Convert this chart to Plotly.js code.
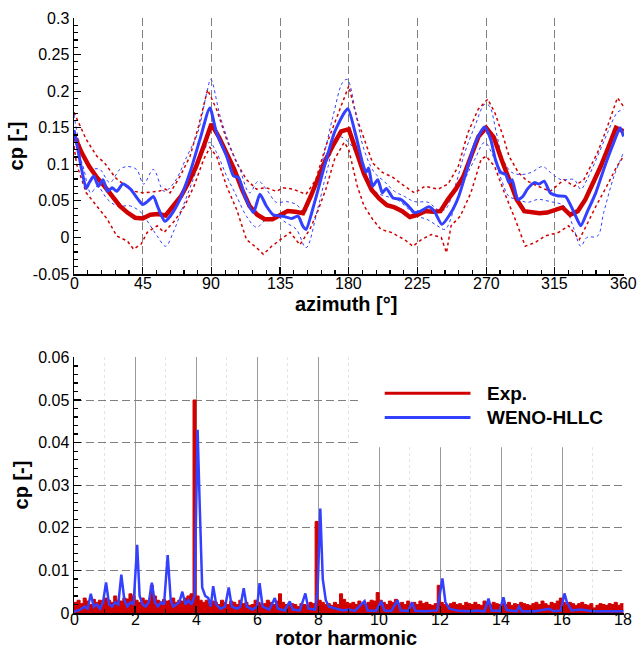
<!DOCTYPE html>
<html><head><meta charset="utf-8">
<script src="https://cdn.plot.ly/plotly-3.0.1.min.js"></script>
<style>html,body{margin:0;padding:0;background:#fff}</style>
</head><body><div id="chart" style="width:637px;height:649px"></div>
<script>
// ---------- Top panel: cp vs azimuth ----------
const expMeanAz0 = 0, expMeanDaz = 5;
const expMean = [0.140,0.116,0.097,0.082,0.070,0.056,0.043,0.034,0.027,0.026,0.031,0.032,0.030,0.043,0.056,0.075,0.097,0.125,0.155,0.137,
  0.116,0.093,0.066,0.043,0.031,0.025,0.025,0.031,0.036,0.035,0.033,0.056,0.083,0.107,0.127,0.145,0.148,0.116,0.087,0.065,
  0.053,0.044,0.041,0.036,0.028,0.031,0.036,0.035,0.036,0.052,0.066,0.083,0.111,0.138,0.150,0.137,0.107,0.079,0.052,0.036,
  0.034,0.033,0.034,0.037,0.041,0.031,0.036,0.052,0.073,0.097,0.123,0.150,0.145];

const expUpperAz = [0,8,15,20,27,35,40,45,55,60,63,69.6,76,81.6,87.5,93.4,100,106.6,113,119.6,126,132.6,137,143.5,152,158.4,165,170.7,177,180,
  185.6,190,195.6,202,209,216.6,223,230,238.5,245,251.7,258,264.7,271,275.6,281,285,291,297,304,312,321,327.6,334,343,349.5,356,360];
const expUpper = [0.171,0.134,0.111,0.102,0.082,0.068,0.063,0.061,0.063,0.066,0.061,0.084,0.111,0.152,0.202,0.175,0.134,0.102,0.079,0.066,
  0.068,0.063,0.068,0.066,0.059,0.079,0.125,0.157,0.193,0.207,0.161,0.134,0.102,0.089,0.082,0.070,0.061,0.070,0.066,0.073,
  0.097,0.143,0.175,0.189,0.171,0.139,0.111,0.089,0.077,0.070,0.063,0.079,0.070,0.079,0.116,0.152,0.191,0.179];

const expLowerAz = [0,1.7,8,15,21.8,28,35,39,44,48,54.5,59,65.6,72,78.6,85,89,93.4,100,106.6,113,119.6,124,129.5,135,141.6,148,154.5,159.5,165,170.7,
  177,180,185.6,190,195.6,201,207.7,216.6,222,227.6,234,240.6,244,247,253,260,266.7,270,275.6,282,289,295.6,302,308.6,317.6,324,331,335.6,342,349,355.6,360];
const expLower = [0.125,0.100,0.061,0.043,0.025,0.002,-0.005,-0.016,-0.009,0.007,0.016,0.007,0.022,0.041,0.070,0.107,0.123,0.111,0.070,0.038,
  -0.003,-0.014,-0.023,-0.012,-0.003,0.007,-0.010,0.011,0.035,0.066,0.107,0.130,0.120,0.070,0.043,0.025,0.011,0.007,-0.003,-0.012,-0.003,
  0.004,0.000,-0.021,0.016,0.029,0.061,0.107,0.111,0.097,0.061,0.025,-0.012,-0.007,0.002,0.007,0.016,-0.003,0.016,0.043,0.070,0.097,0.111];

const wenoMeanAz = [0,3,5,8,10,13,16,19,22,25,28,32,37,42,45,48,52,55,59.5,63,69.4,76,82.5,89,93.4,100,104.5,107.8,112,117.5,121.8,126,130.5,137,
  142.5,146.8,150,152,157.6,164,170.7,177.2,179.5,184.8,189,191.3,193,195.6,199,202,204.6,209,214,219,223,227,232.5,236,241,247,252,258,263,
  269,273,276,279.6,282.8,285,287,290.7,294,297,301.5,304.7,308,312,316.7,322,327.6,332,336,341.8,347,352.7,357.8,360];
const wenoMean = [0.147,0.115,0.093,0.067,0.075,0.084,0.070,0.079,0.063,0.068,0.063,0.073,0.066,0.052,0.045,0.049,0.056,0.041,0.022,0.029,
  0.052,0.089,0.134,0.177,0.143,0.111,0.084,0.082,0.056,0.034,0.059,0.043,0.031,0.029,0.026,0.029,0.015,0.011,0.048,0.097,0.144,0.171,0.176,
  0.138,0.102,0.089,0.095,0.070,0.079,0.061,0.067,0.054,0.052,0.043,0.034,0.036,0.042,0.036,0.018,0.034,0.056,0.097,0.130,0.151,0.134,0.107,
  0.089,0.086,0.075,0.079,0.052,0.056,0.066,0.075,0.073,0.077,0.061,0.057,0.056,0.034,0.016,0.034,0.061,0.093,0.125,0.150,0.138];

const wenoUpperAz = [0,5,12,17,23.5,30,35,41,45.6,52,59,65.6,74,81,87,89.6,95.7,102.2,108.7,115,120.7,126,132.6,139,145.7,151,156.6,163,169.7,176,
  179,184.5,190,196.7,203,210,216.6,223,232,238.5,243,249.6,256,262.6,269,272,276.7,281,286.7,293,299.7,307,312,319,327.6,332,336,343,349.5,356,360];
const wenoUpper = [0.168,0.120,0.095,0.093,0.075,0.093,0.097,0.093,0.073,0.093,0.063,0.075,0.111,0.143,0.198,0.216,0.166,0.125,0.093,0.061,
  0.077,0.066,0.048,0.049,0.045,0.034,0.066,0.107,0.166,0.212,0.216,0.171,0.120,0.089,0.077,0.063,0.056,0.049,0.048,0.038,
  0.038,0.070,0.116,0.152,0.182,0.180,0.143,0.107,0.089,0.086,0.089,0.097,0.089,0.079,0.079,0.066,0.079,0.111,0.143,0.171,0.175];

const wenoLowerAz = [0,3.9,6.5,11,15.3,22,28.5,37,44,50,54.5,60,65,71.5,78,84.5,88.9,93.4,100,106.6,113,119.6,126,132.6,139,145.7,152,159.5,166,172.6,
  180,185.6,192,198.6,205,211.5,218,224.6,231,238,243,249.6,256,262.6,269,274.6,280,285,291,297,304,312,321,327.6,332,336,343,347,353.8,360];
const wenoLower = [0.145,0.111,0.093,0.061,0.070,0.052,0.043,0.043,0.034,0.016,0.002,-0.012,0.007,0.043,0.079,0.116,0.130,0.116,0.084,0.056,
  0.029,0.014,0.025,0.029,0.020,0.011,-0.014,0.038,0.093,0.138,0.130,0.111,0.079,0.061,0.056,0.052,0.041,0.029,0.025,0.016,
  0.011,0.043,0.079,0.107,0.130,0.111,0.079,0.056,0.052,0.048,0.052,0.049,0.043,0.011,-0.012,0.000,0.002,0.034,0.084,0.116];

const azTickVals = [0,45,90,135,180,225,270,315,360];
const cpTickVals = [-0.05,0,0.05,0.1,0.15,0.2,0.25,0.3];
const cpTickText = ['-0.05','0','0.05','0.1','0.15','0.2','0.25','0.3'];

// ---------- Bottom panel: spectrum vs rotor harmonic ----------
const expSpecH0 = 0, expSpecDh = 0.1;
const expSpec = [
 0.0025,0.003,0.0022,0.0035,0.0028,0.002,0.0032,0.0025,0.003,0.0022,
 0.0035,0.003,0.0025,0.004,0.003,0.0028,0.0035,0.0033,0.0045,0.004,
 0.003,0.0025,0.0035,0.003,0.0028,0.0065,0.004,0.003,0.0025,0.0032,
 0.0028,0.003,0.0035,0.0025,0.003,0.0028,0.0035,0.004,0.0045,0.050,
 0.004,0.003,0.0025,0.003,0.0022,0.0028,0.0025,0.002,0.003,0.0025,
 0.002,0.0028,0.0025,0.002,0.003,0.0022,0.0025,0.0018,0.002,0.003,
 0.0025,0.002,0.0022,0.003,0.0025,0.002,0.0028,0.0045,0.0025,0.002,
 0.0018,0.0022,0.002,0.0015,0.0022,0.002,0.0018,0.0025,0.0022,0.0215,
 0.003,0.0025,0.002,0.0022,0.0018,0.0025,0.002,0.0045,0.0032,0.0025,
 0.0022,0.0025,0.002,0.0028,0.0022,0.002,0.0025,0.003,0.0028,0.0048,
 0.003,0.0025,0.002,0.0028,0.0025,0.0032,0.0022,0.0025,0.002,0.0028,
 0.0022,0.0025,0.002,0.0028,0.0022,0.0025,0.002,0.0018,0.0022,0.0065,
 0.0025,0.002,0.0018,0.0022,0.0025,0.002,0.0022,0.0018,0.0025,0.0022,
 0.002,0.0025,0.002,0.0018,0.0028,0.0022,0.002,0.0025,0.0022,0.002,
 0.0022,0.002,0.0025,0.0018,0.0022,0.002,0.0025,0.0022,0.002,0.0018,
 0.0022,0.0025,0.002,0.0028,0.0022,0.0018,0.0025,0.0022,0.0028,0.0035,
 0.0025,0.002,0.0025,0.0022,0.0018,0.0022,0.0025,0.002,0.0018,0.0022,
 0.0012,0.0018,0.0022,0.002,0.0018,0.0022,0.002,0.0025,0.0018,0.0022,
 0.0022];

const wenoSpecH = [0,0.2,0.35,0.45,0.55,0.65,0.75,0.85,0.95,1.05,1.15,1.25,1.35,1.45,1.55,1.65,1.75,1.85,1.95,2.07,2.15,2.25,2.35,2.45,2.55,2.65,2.75,2.85,2.95,
  3.07,3.17,3.25,3.35,3.45,3.55,3.65,3.75,3.85,3.95,4.05,4.12,4.2,4.3,4.4,4.48,4.56,4.66,4.8,4.95,5.07,5.17,5.35,5.45,5.56,5.66,5.85,6.0,6.08,6.18,
  6.4,6.58,6.68,6.9,7.07,7.17,7.4,7.58,7.68,7.9,7.98,8.07,8.15,8.25,8.35,8.6,8.8,9.0,9.2,9.52,9.62,9.9,10.07,10.17,10.4,10.6,10.7,10.95,11.08,11.18,
  11.5,11.9,12.07,12.17,12.3,12.6,13.0,13.2,13.45,13.58,13.68,13.95,14.07,14.17,14.5,14.58,14.68,15.1,15.58,15.7,15.95,16.07,16.15,16.3,16.6,17.0,17.5,18];
const wenoSpec = [0.0003,0.0008,0.0015,0.001,0.0045,0.0015,0.002,0.001,0.0025,0.0072,0.002,0.0015,0.0025,0.002,0.009,0.003,0.0015,0.0025,0.002,0.016,0.004,0.002,0.0015,0.0025,0.0071,0.0025,0.0015,0.0025,0.002,
  0.0136,0.003,0.0015,0.002,0.0025,0.005,0.002,0.003,0.002,0.004,0.043,0.025,0.006,0.004,0.0035,0.0015,0.0063,0.002,0.001,0.0015,0.006,0.0015,0.001,0.0015,0.0058,0.0015,0.0008,0.0015,0.007,0.0015,
  0.0008,0.0035,0.001,0.0006,0.0027,0.0008,0.0006,0.0046,0.001,0.0008,0.005,0.0245,0.008,0.003,0.0015,0.001,0.0006,0.0008,0.0005,0.0028,0.0006,0.0005,0.0028,0.0006,0.0005,0.003,0.0006,0.0005,0.0025,0.0005,
  0.0004,0.0006,0.0081,0.0025,0.001,0.0005,0.0004,0.0006,0.0004,0.0034,0.0006,0.0005,0.0037,0.0007,0.0004,0.0015,0.0004,0.0004,0.001,0.0004,0.0006,0.0046,0.0025,0.0006,0.0008,0.0004,0.0004,0.0004];

const harmTickVals = [0,2,4,6,8,10,12,14,16,18];
const specTickVals = [0,0.01,0.02,0.03,0.04,0.05,0.06];
const legendLabels = ['Exp.','WENO-HLLC'];
const xTitles = ['azimuth [°]','rotor harmonic'];

// ---------- styling ----------
const RED = '#d00000', BLUE = '#3340ff';
const FONT = 'Liberation Sans, Arial, sans-serif';

const traces = [
  {x: expUpperAz, y: expUpper, type:'scatter', mode:'lines', line:{color:RED, width:1.5, dash:'dot'}, xaxis:'x', yaxis:'y'},
  {x: expLowerAz, y: expLower, type:'scatter', mode:'lines', line:{color:RED, width:1.5, dash:'dot'}, xaxis:'x', yaxis:'y'},
  {x: wenoUpperAz, y: wenoUpper, type:'scatter', mode:'lines', line:{color:BLUE, width:1, dash:'dot', shape:'spline'}, xaxis:'x', yaxis:'y'},
  {x: wenoLowerAz, y: wenoLower, type:'scatter', mode:'lines', line:{color:BLUE, width:1, dash:'dot', shape:'spline'}, xaxis:'x', yaxis:'y'},
  {x0: expMeanAz0, dx: expMeanDaz, y: expMean, type:'scatter', mode:'lines', line:{color:RED, width:4.5}, xaxis:'x', yaxis:'y'},
  {x: wenoMeanAz, y: wenoMean, type:'scatter', mode:'lines', line:{color:BLUE, width:3, shape:'spline', smoothing:0.6}, xaxis:'x', yaxis:'y'},
  {x0: expSpecH0, dx: expSpecDh, y: expSpec, type:'scatter', mode:'lines', line:{color:RED, width:1, shape:'hv'}, fill:'tozeroy', fillcolor:RED, xaxis:'x2', yaxis:'y2'},
  {x: wenoSpecH, y: wenoSpec, type:'scatter', mode:'lines', line:{color:BLUE, width:2.5}, xaxis:'x2', yaxis:'y2'}
];

const axisCommon = {
  showline:true, linecolor:'black', linewidth:1.5, mirror:false,
  ticks:'inside', ticklen:7, tickwidth:1.2, tickcolor:'black',
  zeroline:false, automargin:false, ticklabeloverflow:'allow',
  tickfont:{family:FONT, size:16, color:'black'}
};

// x tick labels and x titles placed as annotations (paper y from pixel rows of the reference layout)
const annotations = [];
const tickFont = {family:FONT, size:16, color:'black'};
azTickVals.forEach(v => annotations.push({xref:'x', yref:'paper', x:v, y:0.5538, text:String(v), showarrow:false, xanchor:'center', yanchor:'middle', borderpad:0, font:tickFont}));
harmTickVals.forEach(v => annotations.push({xref:'x2', yref:'paper', x:v, y:-0.0101, text:String(v), showarrow:false, xanchor:'center', yanchor:'middle', borderpad:0, font:tickFont}));
annotations.push({xref:'paper', yref:'paper', x:0.4945, y:0.5193, text:'<b>'+xTitles[0]+'</b>', showarrow:false, xanchor:'center', yanchor:'middle', borderpad:0, font:{family:FONT, size:20, color:'black'}});
annotations.push({xref:'paper', yref:'paper', x:0.4945, y:-0.0412, text:'<b>'+xTitles[1]+'</b>', showarrow:false, xanchor:'center', yanchor:'middle', borderpad:0, font:{family:FONT, size:20, color:'black'}});
annotations.push({xref:'x2', yref:'y2', x:13.48, y:0.0516, text:'<b>'+legendLabels[0]+'</b>', showarrow:false, xanchor:'left', yanchor:'middle', font:{family:FONT, size:19, color:'black'}});
annotations.push({xref:'x2', yref:'y2', x:13.48, y:0.0459, text:'<b>'+legendLabels[1]+'</b>', showarrow:false, xanchor:'left', yanchor:'middle', font:{family:FONT, size:19, color:'black'}});

const layout = {
  width:637, height:649,
  margin:{l:74, r:13, t:18, b:36},
  paper_bgcolor:'white', plot_bgcolor:'white',
  showlegend:false,
  font:{family:FONT, size:16, color:'black'},
  xaxis: Object.assign({}, axisCommon, {
    domain:[0,1], anchor:'y', range:[0,360.3], tickmode:'array', tickvals: azTickVals, showticklabels:false,
    showgrid:true, gridcolor:'#808080', gridwidth:1, griddash:'8px,4px',
    minor:{tickmode:'linear', tick0:0, dtick:9, ticks:'inside', ticklen:4, tickcolor:'black', showgrid:false}
  }),
  yaxis: Object.assign({}, axisCommon, {
    domain:[0.5697,1], anchor:'x', range:[-0.05,0.3], tickmode:'array', tickvals: cpTickVals, ticktext: cpTickText,
    showgrid:false,
    minor:{tickmode:'linear', tick0:0, dtick:0.01, ticks:'inside', ticklen:4, tickcolor:'black', showgrid:false},
    title:{text:'<b>cp [-]</b>', font:{family:FONT, size:20}, standoff:4}
  }),
  xaxis2: Object.assign({}, axisCommon, {
    domain:[0,1], anchor:'y2', range:[0,18.02], tickmode:'array', tickvals: harmTickVals, showticklabels:false,
    showgrid:true, gridcolor:'#999999', gridwidth:1,
    minor:{tickmode:'linear', tick0:1, dtick:2, ticks:'inside', ticklen:4, tickcolor:'black', showgrid:true, gridcolor:'#e4e4e4', griddash:'dot', gridwidth:1}
  }),
  yaxis2: Object.assign({}, axisCommon, {
    domain:[0,0.4303], anchor:'x2', range:[0,0.0601], tickmode:'array', tickvals: specTickVals,
    showgrid:true, gridcolor:'#808080', gridwidth:1, griddash:'8px,4px',
    minor:{tickmode:'linear', tick0:0, dtick:0.002, ticks:'inside', ticklen:4, tickcolor:'black', showgrid:false},
    title:{text:'<b>cp [-]</b>', font:{family:FONT, size:20}, standoff:4}
  }),
  shapes:[
    {type:'rect', xref:'x2', yref:'y2', x0:9.42, x1:18.5, y0:0.0389, y1:0.0605, fillcolor:'white', line:{width:0}, layer:'between'},
    {type:'line', xref:'x2', yref:'y2', x0:10.18, x1:12.99, y0:0.0516, y1:0.0516, line:{color:RED, width:3}},
    {type:'line', xref:'x2', yref:'y2', x0:10.18, x1:12.99, y0:0.0459, y1:0.0459, line:{color:BLUE, width:3}}
  ],
  annotations: annotations
};

Plotly.newPlot('chart', traces, layout, {displayModeBar:false, staticPlot:true});
</script></body></html>
